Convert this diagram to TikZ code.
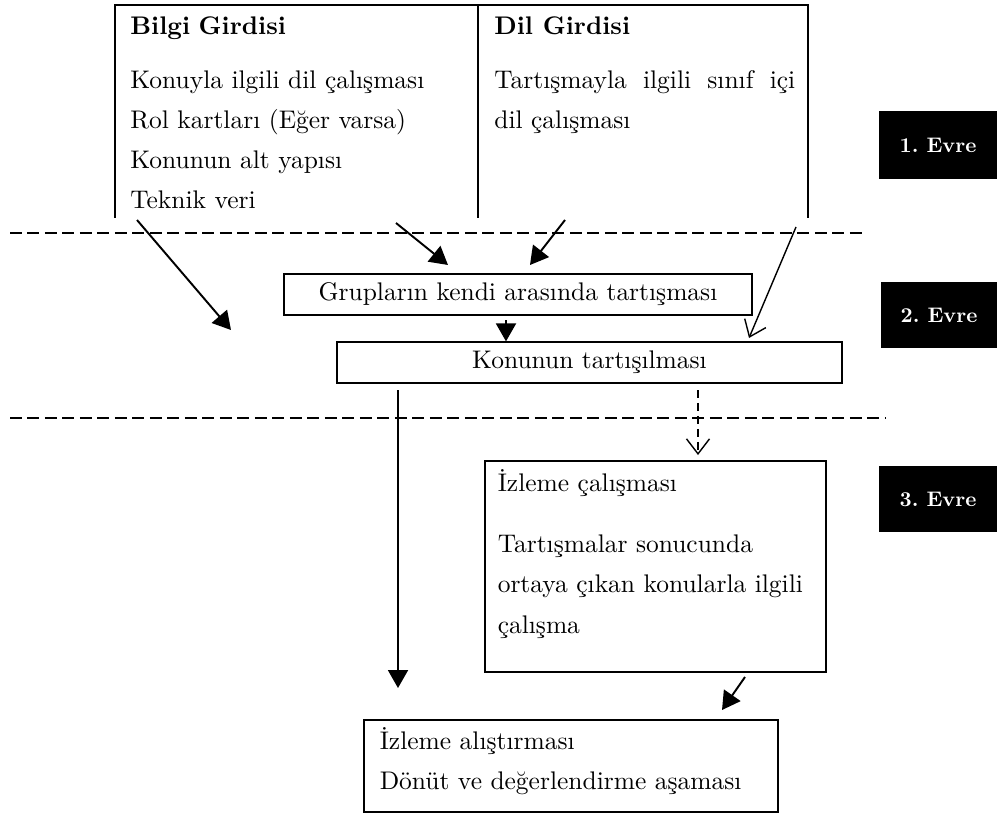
\documentclass[tikz,border=0pt]{standalone}
\usepackage{fontspec}
\setmainfont{lmroman10-regular}[Extension=.otf,BoldFont=lmroman10-bold]
\usetikzlibrary{arrows.meta,positioning}
\newcommand{\metin}{\fontsize{14.5}{22.8}\selectfont}
\tikzset{
  kutu/.style={draw,line width=0.7pt,inner sep=0pt,font=\metin},
  yazi/.style={font=\metin,align=left,inner sep=0pt},
  ok/.style={-{Triangle[length=3.6mm,width=4mm]},line width=1.1pt},
  acik/.style={-{Straight Barb[length=3mm,width=4.6mm]},line width=0.8pt},
  ayrac/.style={dash pattern=on 2.4mm off 1.1mm,line width=1pt},
  evre/.style={fill=black,text=white,inner sep=0pt,font=\bfseries\fontsize{12}{14}\selectfont}
}
\frenchspacing

\begin{document}
\begin{tikzpicture}[x=0.02cm,y=-0.02cm]
\useasboundingbox (0,0) rectangle (997,814);
% 1. evre: girdiler
\draw[line width=0.7pt] (115,218) -- (115,5) -- (808,5) -- (808,218);
\draw[line width=0.7pt] (478,5) -- (478,218);
\node[yazi,anchor=north west,text width=6.5cm] (bilgi) at (130,16)
  {\textbf{Bilgi Girdisi}\\[8pt]
   Konuyla ilgili dil çalışması\\
   Rol kartları (Eğer varsa)\\
   Konunun alt yapısı\\
   Teknik veri};
\node[yazi,anchor=north west,text width=6.02cm,align=justify] (dil) at (494,16)
  {\textbf{Dil Girdisi}\\[8pt]
   Tartışmayla ilgili sınıf içi\linebreak dil çalışması};
\node[evre,minimum width=2.36cm,minimum height=1.36cm] (e1) at (938,145) {1. Evre};
\node[evre,minimum width=2.32cm,minimum height=1.32cm] (e2) at (939,315) {2. Evre};
\node[evre,minimum width=2.36cm,minimum height=1.32cm] (e3) at (938,499) {3. Evre};
\draw[ayrac] (10,233) -- (865,233);
\draw[ayrac] (10,418) -- (885,418);
% 2. evre
\node[kutu,minimum width=9.36cm,minimum height=0.82cm] (grup) at (518,294.5)
  {Grupların kendi arasında tartışması};
\node[kutu,minimum width=10.1cm,minimum height=0.82cm] (konu) at (589.5,362.5)
  {Konunun tartışılması};
% 3. evre
\node[kutu,minimum width=6.82cm,minimum height=4.22cm] (izle) at (655.5,566.5) {};
\node[yazi,below right=0.18cm and 0.26cm of izle.north west] (izlemetin)
  {İzleme çalışması\\[12pt]
   Tartışmalar sonucunda\\
   ortaya çıkan konularla ilgili\\
   çalışma};
\node[kutu,minimum width=8.28cm,minimum height=1.84cm] (son) at (571,766) {};
\node[yazi,below right=0.16cm and 0.32cm of son.north west] (sonmetin)
  {İzleme alıştırması\\
   Dönüt ve değerlendirme aşaması};
% oklar
\coordinate (teknik) at (137,220);
\coordinate (bos) at (231,330);
\coordinate (b1) at (396,223);
\coordinate (g1) at (448,265);
\coordinate (d1) at (565,220);
\coordinate (g2) at (530,265);
\coordinate (d2) at (796,227);
\coordinate (k1) at (749,338);
\coordinate (g3) at (506,320);
\coordinate (k2) at (398,390);
\coordinate (s1) at (398,688);
\coordinate (k3) at (698,390);
\coordinate (i1) at (698,455);
\coordinate (i2) at (745,677);
\coordinate (s2) at (722,710);
\draw[ok] (teknik) -- (bos);
\draw[ok] (b1) -- (g1);
\draw[ok] (d1) -- (g2);
\draw[acik] (d2) -- (k1);
\draw[ok] (g3) -- (g3 |- konu.north);
\draw[ok] (k2) -- (s1);
\draw[acik,dash pattern=on 1.6mm off 1mm] (k3) -- (i1);
\draw[ok] (i2) -- (s2);
\end{tikzpicture}
\end{document}
